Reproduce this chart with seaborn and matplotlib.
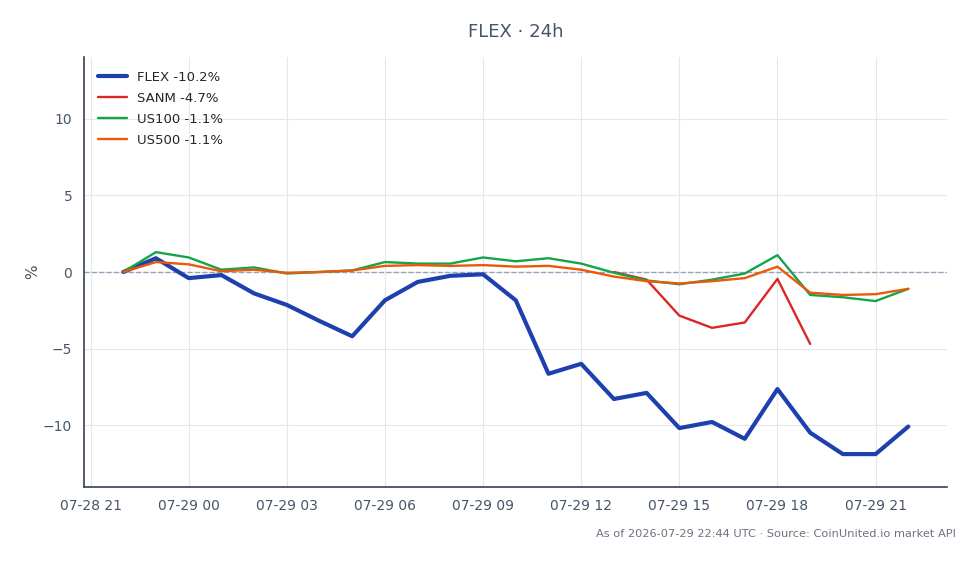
import numpy as np
import pandas as pd
import seaborn as sns
import matplotlib.pyplot as plt
import matplotlib.dates as mdates

# hourly stamps, 07-28 22:00 -> 07-29 22:00
hours = pd.date_range("2026-07-28 22:00", "2026-07-29 22:00", freq="h")

flex = [0.0, 0.9, -0.4, -0.2, -1.4, -2.15, -3.2, -4.2, -1.85, -0.65, -0.25, -0.15,
        -1.85, -6.65, -6.0, -8.3, -7.9, -10.2, -9.8, -10.9, -7.65, -10.5, -11.9, -11.9, -10.1]
us100 = [0.0, 1.3, 0.95, 0.15, 0.3, -0.1, 0.0, 0.1, 0.65, 0.55, 0.55, 0.95,
         0.7, 0.9, 0.55, -0.05, -0.55, -0.8, -0.5, -0.1, 1.1, -1.5, -1.65, -1.9, -1.1]
us500 = [0.0, 0.65, 0.5, 0.05, 0.15, -0.05, 0.0, 0.1, 0.4, 0.45, 0.4, 0.45,
         0.35, 0.4, 0.15, -0.3, -0.6, -0.75, -0.6, -0.4, 0.35, -1.35, -1.5, -1.45, -1.1]
# SANM only has data from 13:00 to 19:00
sanm_hours = pd.date_range("2026-07-29 13:00", "2026-07-29 19:00", freq="h")
sanm = [0.0, -0.5, -2.85, -3.65, -3.3, -0.45, -4.7]

labels = ["FLEX -10.2%", "SANM -4.7%", "US100 -1.1%", "US500 -1.1%"]
colors = ["#1e40af", "#dc2626", "#16a34a", "#ea580c"]
widths = [3.0, 1.7, 1.7, 1.7]

series = [(hours, flex), (sanm_hours, sanm), (hours, us100), (hours, us500)]

sns.set_style("white")
plt.rcParams["font.family"] = ["DejaVu Sans"]
txt = "#475569"

fig = plt.figure(figsize=(9.79, 5.64), dpi=100)
ax = fig.add_axes([84 / 979, 1 - 487 / 564, (947 - 84) / 979, (487 - 57) / 564])

for (x, y), lab, c, w in zip(series, labels, colors, widths):
    sns.lineplot(x=x, y=y, ax=ax, color=c, linewidth=w, label=lab)

ax.axhline(0, color="#94a3b8", linestyle="--", linewidth=1, zorder=1.5)

ax.set_ylim(-14.05, 14.05)
ax.set_yticks([-10, -5, 0, 5, 10])
ax.set_xlim(pd.Timestamp("2026-07-28 20:48"), pd.Timestamp("2026-07-29 23:11"))
ax.xaxis.set_major_locator(mdates.HourLocator(byhour=range(0, 24, 3)))
ax.xaxis.set_major_formatter(mdates.DateFormatter("%m-%d %H"))

ax.grid(True, color="#e5e7eb", linewidth=0.8)
ax.set_axisbelow(True)
for s in ["top", "right"]:
    ax.spines[s].set_visible(False)
for s in ["left", "bottom"]:
    ax.spines[s].set_color("#334155")
    ax.spines[s].set_linewidth(1.2)
ax.tick_params(colors=txt, labelsize=10, length=5, direction="out", width=1)
ax.tick_params(axis="x", colors="#334155", labelcolor=txt)
ax.set_xlabel("")
ax.set_ylabel("%", color=txt, fontsize=11, labelpad=2)

ax.legend(loc="upper left", frameon=False, fontsize=9.5, handlelength=2.2,
          handletextpad=0.8, labelspacing=0.6, borderaxespad=0.65)

fig.text(516 / 979, 1 - 32 / 564, "FLEX · 24h", ha="center", va="center",
         fontsize=13, color=txt)
fig.text(956 / 979, 1 - 534 / 564,
         "As of 2026-07-29 22:44 UTC · Source: CoinUnited.io market API",
         ha="right", va="center", fontsize=8.2, color="#6b7280")

fig.savefig("out.png", dpi=100)
plt.close(fig)
